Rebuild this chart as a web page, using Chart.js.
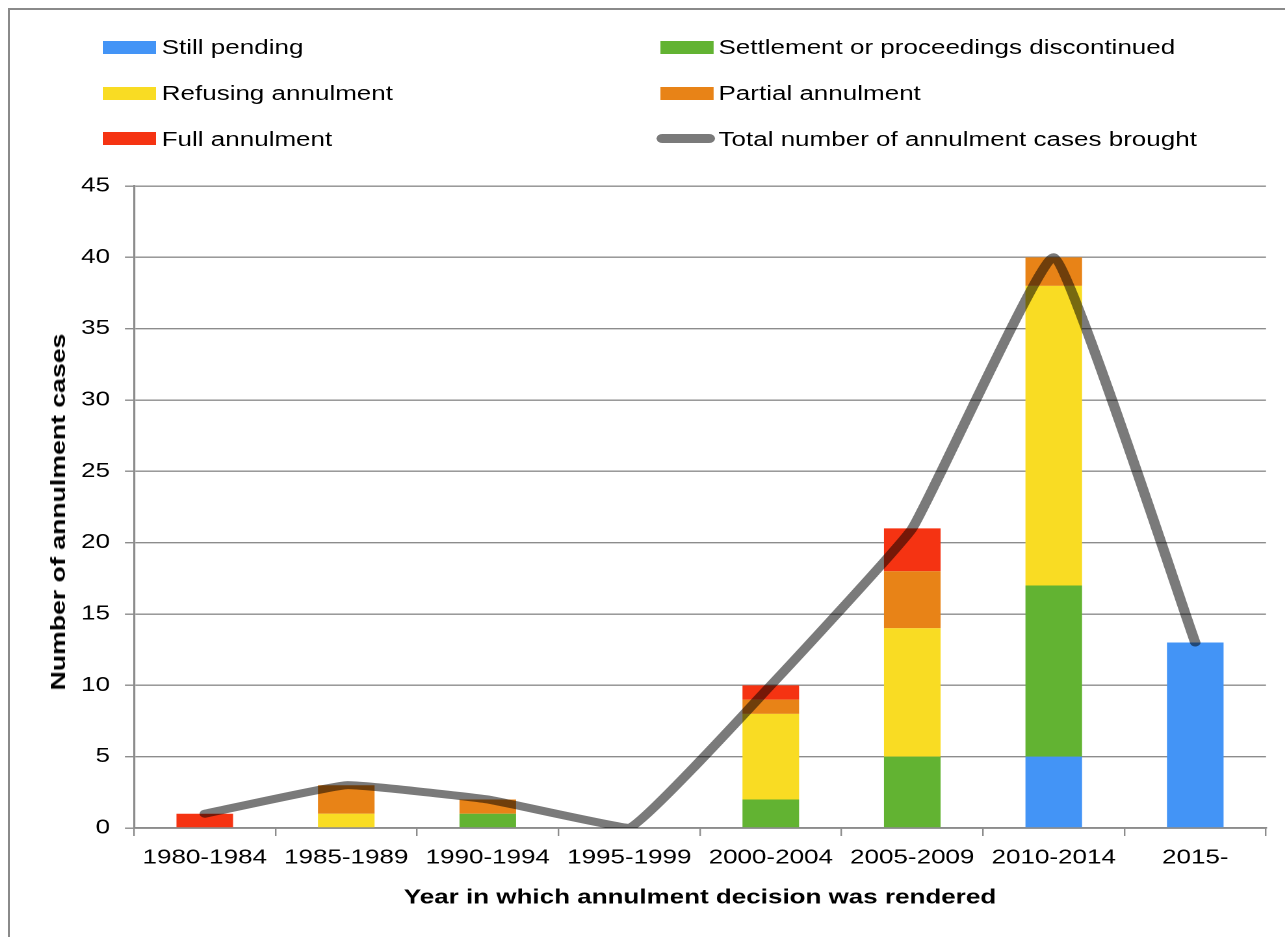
<!DOCTYPE html>
<html>
<head>
<meta charset="utf-8">
<script src="https://cdn.jsdelivr.net/npm/chart.js@4.4.1/dist/chart.umd.min.js"></script>
<style>
  html, body { margin: 0; padding: 0; background: #fff; }
  body { width: 1285px; height: 937px; overflow: hidden; position: relative; font-family: "Liberation Sans", Arial, sans-serif; }
  #frame { position: absolute; left: 8px; top: 8px; width: 1400px; height: 1100px; border-top: 2px solid #8a8a8a; border-left: 2px solid #8a8a8a; box-sizing: border-box; }
  #wrap { position: absolute; left: 0; top: 0; width: 988px; height: 937px; transform: scaleX(1.3); transform-origin: 0 0; }
  #chart { position: absolute; left: 0; top: 0; width: 988px; height: 937px; }
  .lg-box { position: absolute; height: 13px; }
  .lg-line { position: absolute; height: 9px; border-radius: 5px; background: rgba(0,0,0,0.52); }
  .lg-text { position: absolute; height: 24px; line-height: 24px; font-size: 20px; color: #000; white-space: nowrap; }
  #ytitle { position: absolute; left: 58px; top: 512px; font-size: 20.5px; font-weight: bold; color: #000; white-space: nowrap; transform: translate(-50%, -50%) rotate(-90deg) scaleX(1.3); }
</style>
</head>
<body>
<div id="frame"></div>
<div id="wrap">
  <canvas id="chart" width="988" height="937"></canvas>
  <div id="legend"></div>
</div>
<div id="ytitle">Number of annulment cases</div>
<script>
const categories = ['1980-1984', '1985-1989', '1990-1994', '1995-1999', '2000-2004', '2005-2009', '2010-2014', '2015-'];
const stillPending = [0, 0, 0, 0, 0, 0, 5, 13];
const settlement   = [0, 0, 1, 0, 2, 5, 12, 0];
const refusing     = [0, 1, 0, 0, 6, 9, 21, 0];
const partial      = [0, 2, 1, 0, 1, 4, 2, 0];
const fullAnnul    = [1, 0, 0, 0, 1, 3, 0, 0];
const totalBrought = [1, 3, 2, 0, 10, 21, 40, 13];
const yTickMin = 0, yTickMax = 45, yTickStep = 5;

const seriesNames = ['Still pending', 'Settlement or proceedings discontinued', 'Refusing annulment', 'Partial annulment', 'Full annulment', 'Total number of annulment cases brought'];
const seriesColors = ['#4394F6', '#62B332', '#F9DC23', '#E88317', '#F53312', 'rgba(0,0,0,0.52)'];

Chart.defaults.font.family = '"Liberation Sans", Arial, sans-serif';
Chart.defaults.font.size = 20;
Chart.defaults.color = '#000';

const barSets = [stillPending, settlement, refusing, partial, fullAnnul].map((d, i) => ({
  type: 'bar',
  label: seriesNames[i],
  data: d,
  backgroundColor: seriesColors[i],
  borderWidth: 0,
  stack: 'cases',
  order: 1,
  barPercentage: 0.4,
  categoryPercentage: 1.0
}));

const lineSet = {
  type: 'line',
  label: seriesNames[5],
  data: totalBrought,
  borderColor: seriesColors[5],
  backgroundColor: seriesColors[5],
  borderWidth: 8,
  borderCapStyle: 'round',
  borderJoinStyle: 'round',
  pointRadius: 0,
  pointHoverRadius: 0,
  tension: 0.1,
  fill: false,
  stack: 'total',
  order: 0
};

const gridColor = '#8c8c8c';

new Chart(document.getElementById('chart'), {
  data: { labels: categories, datasets: [...barSets, lineSet] },
  options: {
    responsive: false,
    animation: false,
    devicePixelRatio: 2,
    layout: { padding: { top: 186, right: 14.15, left: 0, bottom: 0 } },
    plugins: { legend: { display: false }, tooltip: { enabled: false } },
    scales: {
      x: {
        stacked: true,
        offset: true,
        grid: { display: true, offset: true, drawOnChartArea: false, drawTicks: true, tickLength: 8, color: gridColor, lineWidth: 1.2 },
        border: { display: true, color: gridColor, width: 1.6 },
        ticks: { padding: 10, color: '#000', font: { size: 20 }, maxRotation: 0, minRotation: 0, autoSkip: false },
        title: { display: true, text: 'Year in which annulment decision was rendered', color: '#000', font: { size: 20, weight: 'bold' }, padding: { top: 0, bottom: 27 } },
        afterFit(scale) { scale.height = 109; }
      },
      y: {
        stacked: true,
        min: yTickMin,
        max: yTickMax,
        ticks: { stepSize: yTickStep, padding: 11.5, color: '#000', font: { size: 20 } },
        grid: { display: true, drawOnChartArea: true, drawTicks: true, tickLength: 7, color: gridColor, lineWidth: 1.4 },
        border: { display: true, color: gridColor, width: 1.6 },
        title: { display: false },
        afterFit(scale) { scale.width = 103.08; }
      }
    }
  }
});

// HTML legend, two columns
const legend = document.getElementById('legend');
const legendOrder = [0, 1, 2, 3, 4, 5];
const rowCenters = [47, 93, 138.5];
const colBoxX = [78.5, 507.7];
const colTextX = [124.4, 552.7];
legendOrder.forEach((si, k) => {
  const row = Math.floor(k / 2), col = k % 2;
  const cy = rowCenters[row];
  let sym = document.createElement('div');
  if (si === 5) {
    sym.className = 'lg-line';
    sym.style.left = (colBoxX[col] - 3) + 'px';
    sym.style.width = '45.4px';
    sym.style.top = (cy - 4.5) + 'px';
  } else {
    sym.className = 'lg-box';
    sym.style.left = colBoxX[col] + 'px';
    sym.style.width = '41px';
    sym.style.top = (cy - 6.5) + 'px';
    sym.style.background = seriesColors[si];
  }
  legend.appendChild(sym);
  const t = document.createElement('div');
  t.className = 'lg-text';
  t.style.left = colTextX[col] + 'px';
  t.style.top = (cy - 12) + 'px';
  t.textContent = seriesNames[si];
  legend.appendChild(t);
});
</script>
</body>
</html>
